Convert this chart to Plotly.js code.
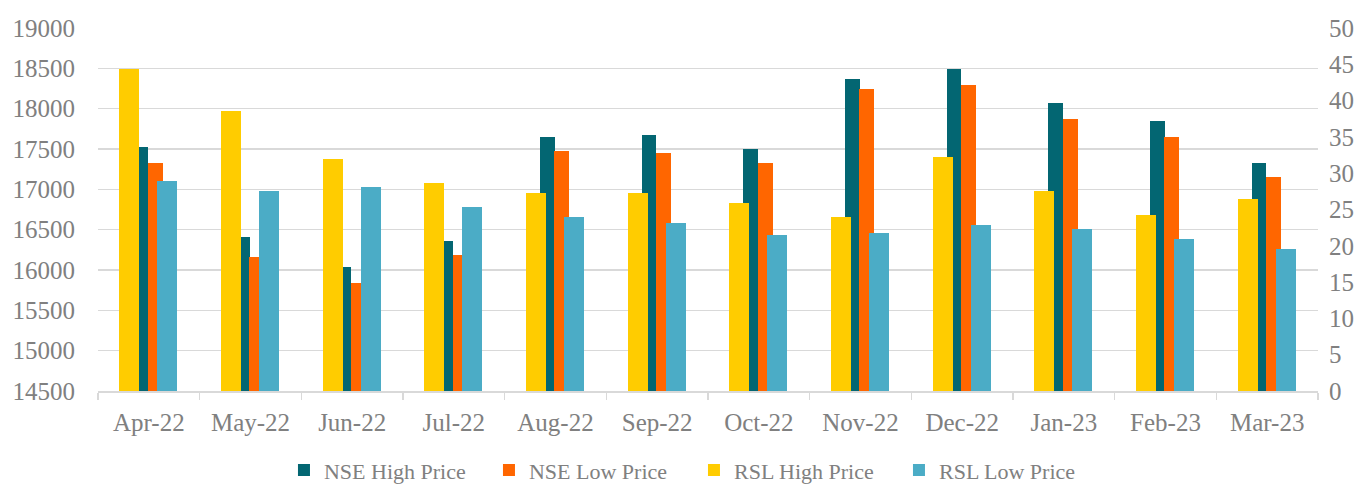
<!DOCTYPE html>
<html>
<head>
<meta charset="utf-8">
<script src="https://cdn.plot.ly/plotly-3.0.1.min.js"></script>
<style>
  html, body { margin: 0; padding: 0; background: #ffffff; }
  #chart { width: 1370px; height: 485px; }
</style>
</head>
<body>
<div id="chart"></div>
<script>
const months = ["Apr-22", "May-22", "Jun-22", "Jul-22", "Aug-22", "Sep-22", "Oct-22", "Nov-22", "Dec-22", "Jan-23", "Feb-23", "Mar-23"];
const nseHigh = [17525, 16409, 16037, 16360, 17649, 17674, 17500, 18368, 18492, 18070, 17847, 17326];
const nseLow  = [17326, 16161, 15839, 16186, 17475, 17450, 17326, 18244, 18293, 17872, 17649, 17153];
const rslHigh = [44.35, 38.55, 31.95, 28.65, 27.25, 27.25, 25.9, 23.95, 32.2, 27.55, 24.25, 26.45];
const rslLow  = [28.9, 27.55, 28.1, 25.35, 23.95, 23.15, 21.5, 21.75, 22.85, 22.3, 20.95, 19.55];

const font = "Liberation Serif, Times New Roman, serif";
const grey = "#808080";

const traces = [
  { type: "bar", name: "NSE High Price", x: months, y: nseHigh, yaxis: "y",
    marker: { color: "#036672" }, offset: -0.154, width: 0.145, hoverinfo: "x+y+name" },
  { type: "bar", name: "NSE Low Price", x: months, y: nseLow, yaxis: "y",
    marker: { color: "#FF6600" }, offset: -0.01, width: 0.145, hoverinfo: "x+y+name" },
  { type: "bar", name: "RSL High Price", x: months, y: rslHigh, yaxis: "y2",
    marker: { color: "#FFCC00" }, offset: -0.291, width: 0.197, hoverinfo: "x+y+name" },
  { type: "bar", name: "RSL Low Price", x: months, y: rslLow, yaxis: "y2",
    marker: { color: "#4BACC6" }, offset: 0.082, width: 0.197, hoverinfo: "x+y+name" }
];

const layout = {
  width: 1370, height: 485,
  margin: { l: 98, r: 52, t: 28, b: 94, pad: 0, autoexpand: false },
  paper_bgcolor: "#ffffff", plot_bgcolor: "#ffffff",
  font: { family: font, color: grey, size: 25 },
  showlegend: true,
  legend: {
    orientation: "h", x: 0.4885, xanchor: "center", y: -0.218, yanchor: "middle",
    font: { family: font, color: grey, size: 22 },
    itemwidth: 30, entrywidth: 160, entrywidthmode: "pixels",
    traceorder: "normal", bgcolor: "rgba(0,0,0,0)"
  },
  xaxis: {
    type: "category", range: [-0.5, 11.5],
    showline: true, linecolor: "#d9d9d9", linewidth: 1.5,
    ticks: "outside", tickson: "boundaries", ticklen: 7, tickcolor: "#d9d9d9", tickwidth: 1.5,
    tickfont: { family: font, color: grey, size: 25 },
    ticklabelstandoff: 8,
    showgrid: false, zeroline: false, fixedrange: true
  },
  yaxis: {
    range: [14500, 19000], dtick: 500, tick0: 14500, tickformat: "d",
    showgrid: true, gridcolor: "#d9d9d9", gridwidth: 1.5,
    showline: false, zeroline: false, ticks: "",
    tickfont: { family: font, color: grey, size: 25 },
    ticklabelstandoff: 22, fixedrange: true
  },
  yaxis2: {
    range: [0, 50], dtick: 5, tick0: 0, tickformat: "d", overlaying: "y", side: "right",
    showgrid: false, showline: false, zeroline: false, ticks: "",
    tickfont: { family: font, color: grey, size: 25 },
    ticklabelstandoff: 10, fixedrange: true
  },
  bargap: 0, barmode: "overlay"
};

Plotly.newPlot("chart", traces, layout, { displayModeBar: false, staticPlot: true });
</script>
</body>
</html>
